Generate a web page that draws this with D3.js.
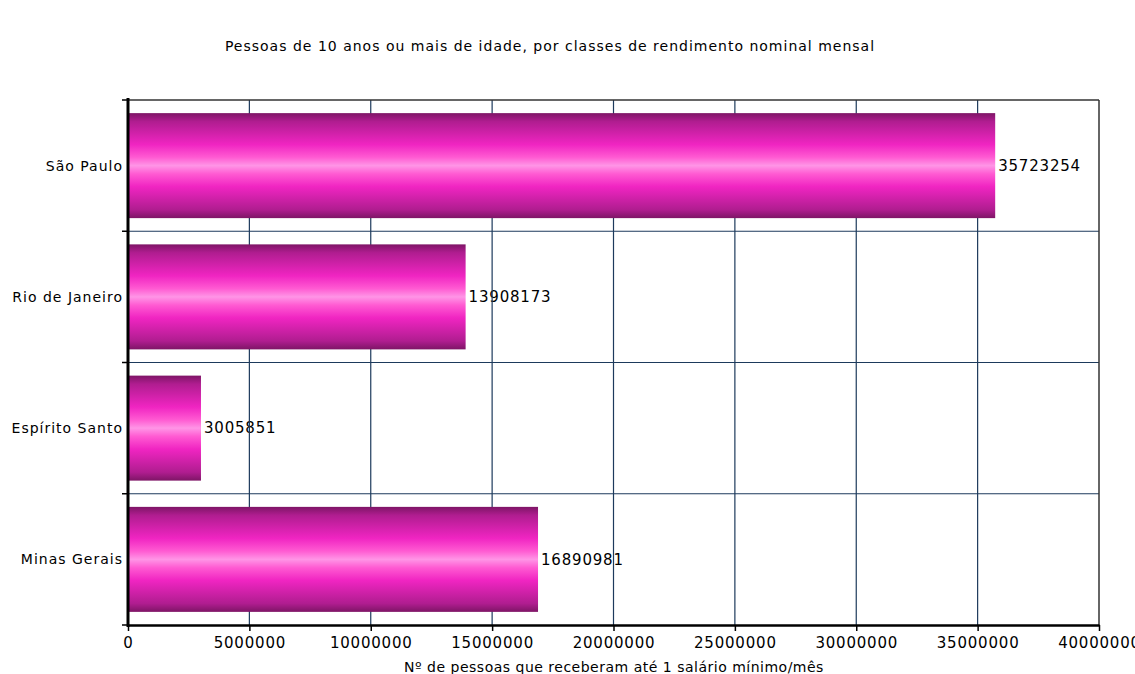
<!DOCTYPE html>
<html><head><meta charset="utf-8">
<script src="https://cdn.jsdelivr.net/npm/d3@7"></script>
<style>body{margin:0;background:#fff}svg{display:block}text{font-family:"DejaVu Sans",sans-serif;fill:#000}</style>
</head><body>
<script>
const title = "Pessoas de 10 anos ou mais de idade, por classes de rendimento nominal mensal";
const xLabel = "Nº de pessoas que receberam até 1 salário mínimo/mês";
const categories = ["São Paulo", "Rio de Janeiro", "Espírito Santo", "Minas Gerais"];
const values = [35723254, 13908173, 3005851, 16890981];
const xTicks = [0, 5000000, 10000000, 15000000, 20000000, 25000000, 30000000, 35000000, 40000000];

const W = 1135, H = 674;
const m = {l:128, r:1099, t:100, b:625};
const svg = d3.select("body").append("svg").attr("width", W).attr("height", H);

const defs = svg.append("defs");
const g = defs.append("linearGradient").attr("id","bar").attr("x1",0).attr("y1",0).attr("x2",0).attr("y2",1);
[[0,"#7e1566"],[0.08,"#b01d90"],[0.3,"#f025c2"],[0.42,"#ff5ad2"],[0.5,"#ff95e6"],[0.58,"#ff5ad2"],[0.7,"#f025c2"],[0.92,"#b01d90"],[1,"#7e1566"]]
  .forEach(([o,c]) => g.append("stop").attr("offset",o).attr("stop-color",c));

const x = d3.scaleLinear().domain([0, 40000000]).range([m.l, m.r]);
const y = d3.scaleBand().domain(categories).range([m.t, m.b]).paddingInner(0.2).paddingOuter(0.1);
const data = categories.map((c,i) => ({c, v: values[i]}));

// title
svg.append("text").attr("x", 550).attr("y", 51).attr("text-anchor","middle")
  .style("font-size","14px").style("letter-spacing","1px").text(title);

// value labels (under grid)
svg.selectAll(".val").data(data).join("text").attr("class","val")
  .attr("x", d => x(d.v) + 3).attr("y", d => y(d.c) + y.bandwidth()/2).attr("dy","0.35em")
  .style("font-size","15px").style("letter-spacing","0.8px").text(d => d.v);

// grid
const boundaries = d3.range(categories.length + 1).map(i => m.t + i * (m.b - m.t) / categories.length);
svg.append("g").selectAll("line").data(xTicks.slice(1, -1)).join("line")
  .attr("x1", d => x(d)).attr("x2", d => x(d)).attr("y1", m.t).attr("y2", m.b)
  .attr("stroke","#1d3a5c").attr("stroke-width",1.2);
svg.append("g").selectAll("line").data(boundaries.slice(1, -1)).join("line")
  .attr("x1", m.l).attr("x2", m.r).attr("y1", d => d).attr("y2", d => d)
  .attr("stroke","#1d3a5c").attr("stroke-width",1.2);

// bars
svg.selectAll(".bar").data(data).join("rect").attr("class","bar")
  .attr("x", x(0)).attr("y", d => y(d.c)).attr("width", d => x(d.v) - x(0)).attr("height", y.bandwidth())
  .attr("fill","url(#bar)");

// frame
svg.append("line").attr("x1", m.l).attr("x2", m.r).attr("y1", m.t).attr("y2", m.t).attr("stroke","#333").attr("stroke-width",1.5);
svg.append("line").attr("x1", m.r).attr("x2", m.r).attr("y1", m.t).attr("y2", m.b).attr("stroke","#333").attr("stroke-width",1.5);

// x axis
const xa = svg.append("g").attr("transform", `translate(0,${m.b})`)
  .call(d3.axisBottom(x).tickValues(xTicks).tickFormat(d3.format("d")).tickSize(6).tickSizeOuter(0));
xa.select(".domain").attr("stroke","#000").attr("stroke-width",2.5);
xa.selectAll(".tick line").attr("stroke","#000").attr("stroke-width",1.5);
xa.selectAll(".tick text").attr("y", 12).style("font-size","15px").style("letter-spacing","0.8px")
  .style("font-family","DejaVu Sans").attr("fill","#000");

// y axis
svg.append("line").attr("x1", m.l).attr("x2", m.l).attr("y1", m.t - 2).attr("y2", m.b + 2).attr("stroke","#000").attr("stroke-width",3);
svg.append("g").selectAll("line").data(boundaries).join("line")
  .attr("x1", m.l - 6).attr("x2", m.l).attr("y1", d => d).attr("y2", d => d).attr("stroke","#000").attr("stroke-width",1.5);
svg.selectAll(".cat").data(categories).join("text").attr("class","cat")
  .attr("x", m.l - 5).attr("y", d => y(d) + y.bandwidth()/2).attr("dy","0.35em")
  .attr("text-anchor","end").style("font-size","14px").style("letter-spacing","1px").text(d => d);

// x label
svg.append("text").attr("x", 614).attr("y", 672).attr("text-anchor","middle")
  .style("font-size","14px").style("letter-spacing","0.5px").text(xLabel);
</script>
</body></html>
